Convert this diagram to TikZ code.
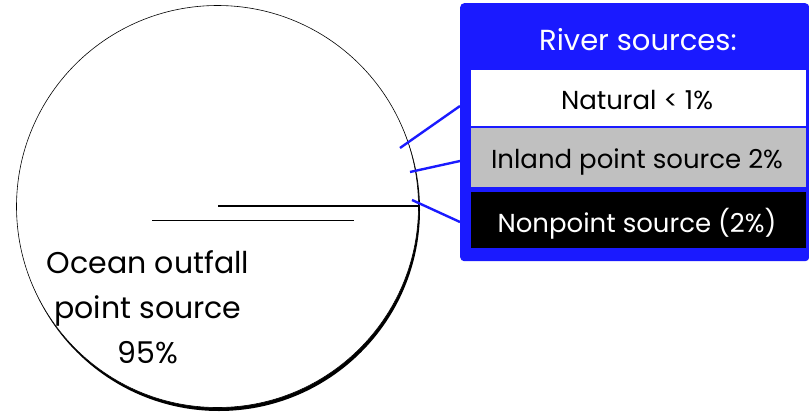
\documentclass[tikz,border=0pt]{standalone}
\usepackage{fontspec}
\setmainfont{Poppins}
\definecolor{rblue}{RGB}{26,26,255}
\definecolor{rgray}{RGB}{192,192,192}
\begin{document}
\begin{tikzpicture}[x=1pt,y=-1pt,
  rowbox/.style={minimum width=335pt,minimum height=56pt,inner sep=0pt,anchor=north west},
  rowtext/.style={font=\fontsize{26}{30}\selectfont,anchor=base,inner sep=0pt},
  pietext/.style={font=\fontsize{30}{36}\selectfont,anchor=base,inner sep=0pt},
  lead/.style={draw=rblue,line width=2.4pt},
  pieline/.style={draw=black}]
\useasboundingbox (0,0) rectangle (809,413);
% pie
\fill[black] (219,210) circle[radius=201];
\filldraw[fill=white,draw=black,line width=0.6pt] (217.5,206.5) circle[radius=201];
\draw[pieline,line width=1.5pt] (218,206) -- (419,206);
\draw[pieline,line width=1pt] (152,220) -- (354,220);
\node[pietext] (ocean1) at (148,273) {Ocean outfall};
\node[pietext] (ocean2) at (148,318) {point source};
\node[pietext] (ocean3) at (148,363) {95\%};
% legend box
\node[fill=rblue,rounded corners=4pt,minimum width=349pt,minimum height=258pt,anchor=north west,inner sep=0pt] (outer) at (460,3) {};
\node[rowtext,text=white,font=\fontsize{29}{32}\selectfont] (title) at (638,50) {River sources:};
\node[rowbox,fill=white] (nat) at (471,70) {};
\node[rowbox,fill=rgray,minimum height=59pt] (inl) at (471,128) {};
\node[rowbox,fill=black,minimum height=56pt] (non) at (471,192) {};
\node[rowtext] (natt) at (637,109) {Natural < 1\%};
\node[rowtext] (inlt) at (637,168) {Inland point source 2\%};
\node[rowtext,text=white] (nont) at (637,232) {Nonpoint source (2\%)};
% leader lines
\coordinate (a1) at (400,148); \coordinate (b1) at (460,106);
\coordinate (a2) at (410,172); \coordinate (b2) at (460,161);
\coordinate (a3) at (412,200); \coordinate (b3) at (460,222);
\draw[lead] (a1) -- (b1);
\draw[lead] (a2) -- (b2);
\draw[lead] (a3) -- (b3);
\end{tikzpicture}
\end{document}
